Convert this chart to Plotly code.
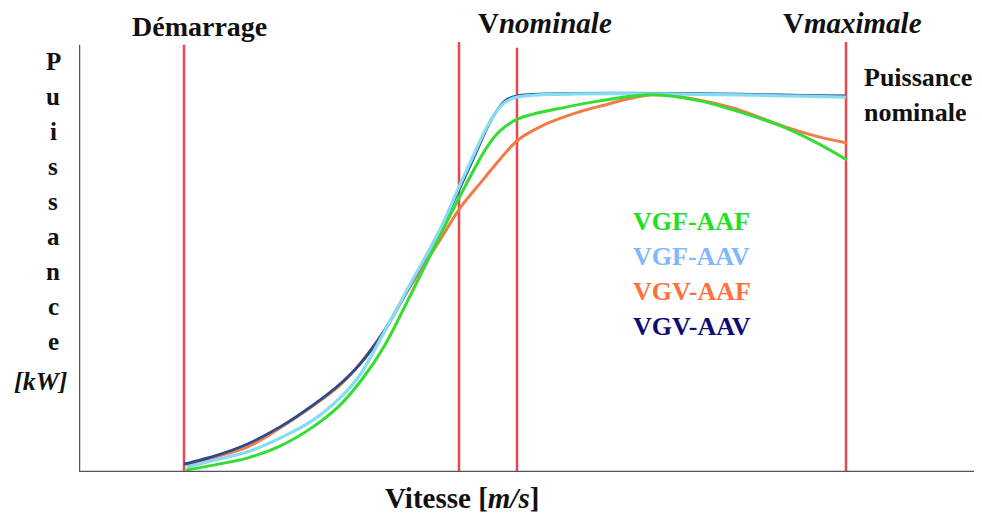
import plotly.graph_objects as go

# ---- data (speed in arbitrary units, power as fraction of nominal) ----
v_vgv_aav = [10.5, 13.6, 16.8, 20.1, 23.4, 26.1, 28.1, 30.4, 32.8, 36.1, 38.0, 39.6, 41.1, 42.6, 43.8, 76.7]
p_vgv_aav = [0.021, 0.043, 0.074, 0.120, 0.178, 0.234, 0.287, 0.370, 0.481, 0.644, 0.750, 0.843, 0.931, 0.987, 1.0, 1.0]

v_vgf_aav = [10.8, 13.6, 16.8, 20.1, 23.4, 26.1, 28.1, 30.4, 32.8, 36.1, 38.0, 39.6, 40.9, 42.4, 43.8, 76.7]
p_vgf_aav = [0.013, 0.032, 0.053, 0.090, 0.138, 0.197, 0.258, 0.366, 0.484, 0.644, 0.758, 0.851, 0.923, 0.979, 0.997, 0.997]

v_vgf_aaf = [10.7, 13.6, 16.8, 20.1, 23.4, 26.1, 28.4, 30.6, 33.1, 36.1, 38.1, 40.8, 42.1, 43.9,
             48.8, 52.1, 57.4, 62.1, 65.4, 70.4, 73.6, 76.8]
p_vgf_aaf = [0.005, 0.019, 0.037, 0.069, 0.120, 0.178, 0.250, 0.338, 0.468, 0.628, 0.734, 0.864,
             0.907, 0.939, 0.971, 0.987, 1.003, 0.987, 0.963, 0.918, 0.878, 0.830]

v_vgv_aaf = [10.7, 13.6, 16.8, 20.1, 23.4, 26.1, 28.4, 30.6, 32.8, 36.1, 38.1, 40.4, 42.1, 43.9,
             46.1, 48.8, 52.1, 57.4, 62.1, 65.4, 70.4, 73.6, 76.8]
p_vgv_aaf = [0.019, 0.040, 0.066, 0.117, 0.176, 0.231, 0.298, 0.378, 0.479, 0.617, 0.702, 0.777,
             0.832, 0.883, 0.918, 0.947, 0.973, 1.003, 0.989, 0.968, 0.920, 0.894, 0.875]

v_markers = [10.5, 38.0, 43.8, 76.7]          # Démarrage, (intermédiaire), Vnominale, Vmaximale
v_marker_tops = [1.136, 1.1436, 1.128, 1.1436]

legend_names = ["VGF-AAF", "VGF-AAV", "VGV-AAF", "VGV-AAV"]
legend_colors = ["#1fe01f", "#80b8ff", "#ff7040", "#0b0b7a"]
legend_y = [0.665, 0.572, 0.479, 0.386]

y_letters = list("Puissance")

FONT = "Liberation Serif"
X_MAX = 90.3
Y_MAX = 1.1436

fig = go.Figure()

fig.add_trace(go.Scatter(x=v_vgv_aaf, y=p_vgv_aaf, mode="lines",
                         line=dict(color="#f47a45", width=3, shape="spline", smoothing=1.0),
                         name="VGV-AAF", showlegend=False))
fig.add_trace(go.Scatter(x=v_vgv_aav, y=p_vgv_aav, mode="lines",
                         line=dict(color="#2b4c8c", width=2.8, shape="spline", smoothing=0.8),
                         name="VGV-AAV", showlegend=False))
fig.add_trace(go.Scatter(x=v_vgf_aav, y=p_vgf_aav, mode="lines",
                         line=dict(color="#86dcf0", width=3.2, shape="spline", smoothing=0.8),
                         name="VGF-AAV", showlegend=False))
fig.add_trace(go.Scatter(x=v_vgf_aaf, y=p_vgf_aaf, mode="lines",
                         line=dict(color="#33dd33", width=3, shape="spline", smoothing=1.0),
                         name="VGF-AAF", showlegend=False))

shapes = []
for xv, top in zip(v_markers, v_marker_tops):
    shapes.append(dict(type="line", xref="x", yref="y", x0=xv, x1=xv, y0=0, y1=top,
                       line=dict(color="#e8474f", width=2.5), layer="below"))
shapes.append(dict(type="line", xref="x", yref="y", x0=0, x1=0, y0=0, y1=1.136,
                   line=dict(color="#555555", width=2.5)))
shapes.append(dict(type="line", xref="x", yref="y", x0=0, x1=X_MAX, y0=0, y1=0,
                   line=dict(color="#555555", width=2.5)))

ann = []
def txt(x, y, s, color="#111111", size=26, xa="center"):
    ann.append(dict(x=x / X_MAX, y=y / Y_MAX, xref="paper", yref="paper", text=s,
                    showarrow=False, xanchor=xa, yanchor="middle",
                    font=dict(family=FONT, size=size, color=color)))

txt(12.0, 1.184, "<b>Démarrage</b>", size=28)
txt(46.6, 1.194, "<b>V<i>nominale</i></b>", size=29)
txt(77.3, 1.194, "<b>V<i>maximale</i></b>", size=29)
txt(78.3, 1.048, "<b>Puissance</b>", xa="left")
txt(78.3, 0.957, "<b>nominale</b>", xa="left")
for i, ch in enumerate(y_letters):
    txt(-2.6, (472 - (62 + 35.0 * i)) / 376, "<b>%s</b>" % ch, size=25)
txt(-3.9, (472 - 382) / 376, "<b><i>[kW]</i></b>", size=26)
for name, col, yy in zip(legend_names, legend_colors, legend_y):
    txt(55.2, yy, "<b>%s</b>" % name, color=col, size=26, xa="left")
txt(38.3, -0.069, "<b>Vitesse [<i>m/s</i>]</b>", size=29)

# the page body has an 8px margin, so the figure is offset by 8px
fig.update_layout(
    width=974, height=507,
    margin=dict(l=71, r=0, t=34, b=43),
    paper_bgcolor="white", plot_bgcolor="white",
    shapes=shapes, annotations=ann,
    xaxis=dict(range=[0, X_MAX], visible=False, fixedrange=True),
    yaxis=dict(range=[0, Y_MAX], visible=False, fixedrange=True),
    showlegend=False,
)

fig.write_html("out.html", config={"displayModeBar": False})
